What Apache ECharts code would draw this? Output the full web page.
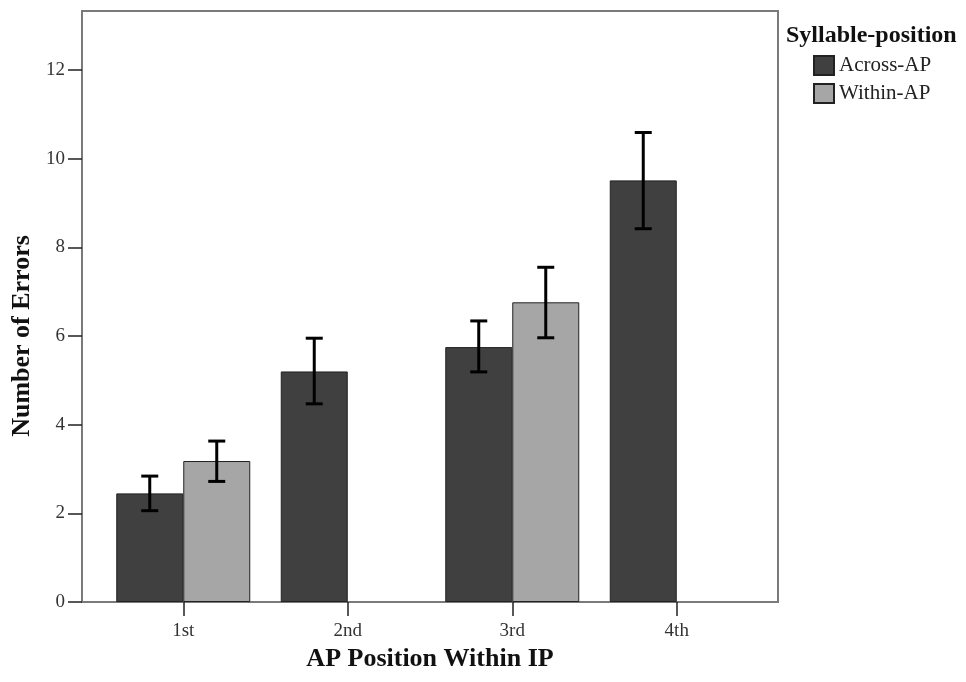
<!DOCTYPE html>
<html>
<head>
<meta charset="utf-8">
<script src="https://cdn.jsdelivr.net/npm/echarts@6/dist/echarts.min.js"></script>
<style>
html,body{margin:0;padding:0;background:#fff;}
#chart{width:966px;height:682px;}
</style>
</head>
<body>
<div id="chart"></div>
<script>
var categories = ['1st', '2nd', '3rd', '4th'];
var seriesNames = ['Across-AP', 'Within-AP'];
var acrossValues = [2.45, 5.20, 5.75, 9.51];
var acrossLow = [2.06, 4.47, 5.19, 8.42];
var acrossHigh = [2.84, 5.95, 6.34, 10.59];
var withinValues = [3.18, null, 6.76, null];
var withinLow = [2.72, null, 5.96, null];
var withinHigh = [3.63, null, 7.55, null];
var yTicks = [0, 2, 4, 6, 8, 10, 12];

var FONT = '"Liberation Serif", "Times New Roman", serif';
var BAR_W = 67;

function errData(low, high) {
  var out = [];
  for (var i = 0; i < categories.length; i++) {
    if (low[i] != null) out.push([i, low[i], high[i]]);
  }
  return out;
}

function makeErr(offset) {
  return function (params, api) {
    var lo = api.coord([api.value(0), api.value(1)]);
    var hi = api.coord([api.value(0), api.value(2)]);
    var x = lo[0] + offset;
    var cap = 8.5;
    var st = { stroke: '#000', lineWidth: 3 };
    return {
      type: 'group',
      children: [
        { type: 'line', shape: { x1: x, y1: lo[1], x2: x, y2: hi[1] }, style: st },
        { type: 'line', shape: { x1: x - cap, y1: lo[1], x2: x + cap, y2: lo[1] }, style: st },
        { type: 'line', shape: { x1: x - cap, y1: hi[1], x2: x + cap, y2: hi[1] }, style: st }
      ]
    };
  };
}

var chart = echarts.init(document.getElementById('chart'), null, { renderer: 'canvas' });
chart.setOption({
  backgroundColor: '#ffffff',
  animation: false,
  textStyle: { fontFamily: FONT },
  title: {
    text: 'Syllable-position',
    left: 781, top: 19,
    textStyle: { fontFamily: FONT, fontWeight: 'bold', fontSize: 24, color: '#111' }
  },
  legend: {
    orient: 'vertical',
    left: 813, top: 55, padding: 0,
    itemWidth: 20, itemHeight: 19, itemGap: 7,
    icon: 'rect',
    data: seriesNames,
    textStyle: { fontFamily: FONT, fontSize: 21, color: '#222' }
  },
  grid: [
    { left: 101, right: 207, top: 70, bottom: 80, show: false, outerBoundsMode: 'none', containLabel: false },
    { left: 82, right: 188, top: 11, bottom: 80, show: true, borderColor: '#7a7a7a', borderWidth: 2, backgroundColor: 'transparent', outerBoundsMode: 'none', containLabel: false }
  ],
  xAxis: [
    {
      type: 'category', gridIndex: 0, data: categories,
      axisLine: { show: false },
      axisTick: { show: true, alignWithLabel: true, length: 14, lineStyle: { color: '#222', width: 1.5 } },
      axisLabel: { fontFamily: FONT, fontSize: 19, color: '#333', margin: 20 },
      name: 'AP Position Within IP', nameLocation: 'middle', nameGap: 44,
      nameTextStyle: { fontFamily: FONT, fontWeight: 'bold', fontSize: 26, color: '#111' }
    },
    { type: 'value', gridIndex: 1, show: false, min: 0, max: 1 }
  ],
  yAxis: [
    {
      type: 'value', gridIndex: 0, min: 0, max: 12, interval: 2, offset: 19,
      axisLine: { show: false },
      axisTick: { show: true, length: 14, lineStyle: { color: '#222', width: 1.5 } },
      axisLabel: { fontFamily: FONT, fontSize: 19, color: '#333', margin: 17,
        formatter: function (v) { return yTicks.indexOf(v) >= 0 ? String(v) : ''; } },
      splitLine: { show: false },
      name: 'Number of Errors', nameLocation: 'middle', nameGap: 46, nameRotate: 90,
      nameTextStyle: { fontFamily: FONT, fontWeight: 'bold', fontSize: 26, color: '#111' }
    },
    { type: 'value', gridIndex: 1, show: false, min: 0, max: 1 }
  ],
  series: [
    {
      name: seriesNames[0], type: 'bar', xAxisIndex: 0, yAxisIndex: 0,
      data: acrossValues, barWidth: BAR_W, barGap: '0%',
      itemStyle: { color: '#404040', borderColor: '#222', borderWidth: 1 }
    },
    {
      name: seriesNames[1], type: 'bar', xAxisIndex: 0, yAxisIndex: 0,
      data: withinValues, barWidth: BAR_W, barGap: '0%',
      itemStyle: { color: '#a6a6a6', borderColor: '#222', borderWidth: 1 }
    },
    {
      type: 'custom', xAxisIndex: 0, yAxisIndex: 0, z: 5,
      renderItem: makeErr(-BAR_W / 2), data: errData(acrossLow, acrossHigh)
    },
    {
      type: 'custom', xAxisIndex: 0, yAxisIndex: 0, z: 5,
      renderItem: makeErr(BAR_W / 2), data: errData(withinLow, withinHigh)
    }
  ]
});
</script>
</body>
</html>
